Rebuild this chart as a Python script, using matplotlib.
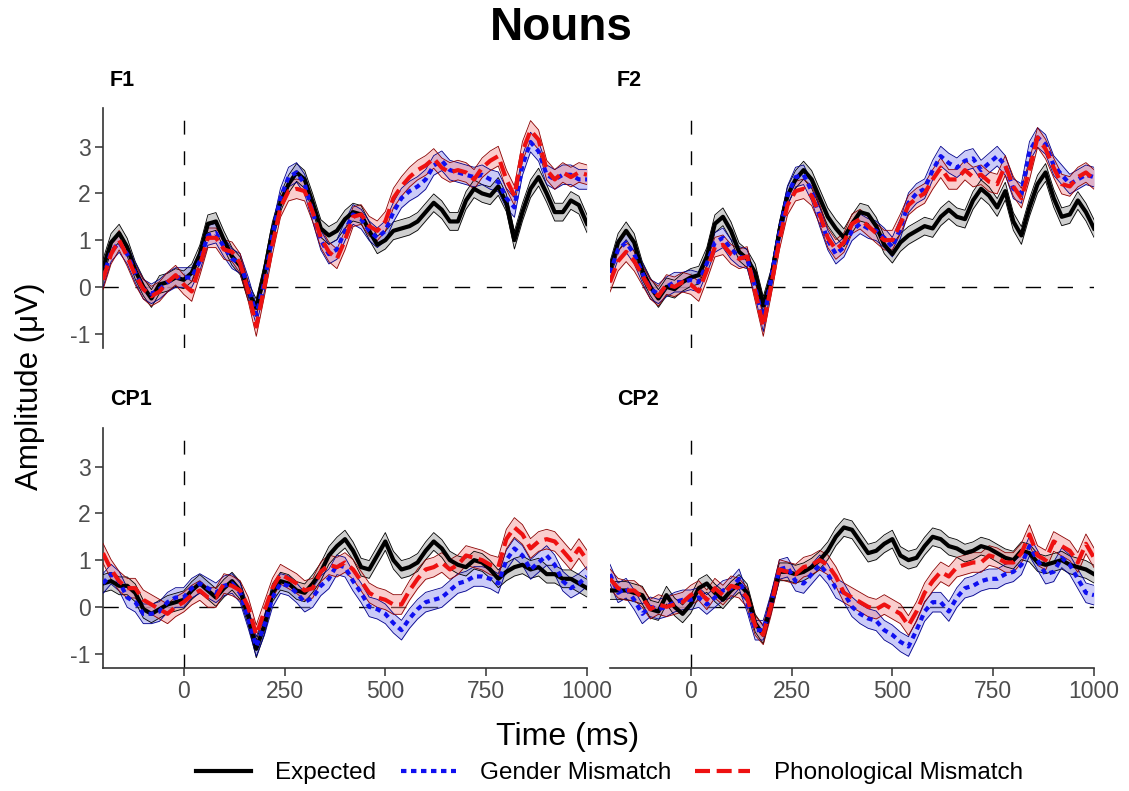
import numpy as np
import matplotlib
matplotlib.use("Agg")
import matplotlib.pyplot as plt

plt.rcParams['font.family'] = ['Liberation Sans', 'DejaVu Sans']
plt.rcParams['axes.unicode_minus'] = False

# time grid (ms), one sample every 20 ms
times = np.arange(-200, 1001, 20)

conditions = ["Expected", "Gender Mismatch", "Phonological Mismatch"]
panels = ["F1", "F2", "CP1", "CP2"]

f1_expected = [0.4, 0.95, 1.15, 0.85, 0.35, 0.0, -0.25, 0.05, 0.1, 0.2,
               0.15, 0.3, 0.7, 1.35, 1.4, 1.0, 0.65, 0.45, -0.1, -0.45,
               0.3, 1.2, 1.8, 2.2, 2.45, 2.3, 1.8, 1.25, 1.1, 1.2,
               1.45, 1.6, 1.55, 1.2, 0.9, 1.0, 1.2, 1.25, 1.3, 1.4,
               1.6, 1.8, 1.65, 1.4, 1.4, 1.85, 2.1, 2.0, 1.95, 2.15,
               1.8, 1.0, 1.6, 2.1, 2.35, 2.0, 1.6, 1.6, 1.85, 1.75,
               1.35]
f1_gender = [0.2, 0.75, 0.95, 0.7, 0.3, -0.05, -0.15, -0.05, 0.1, 0.2,
             0.2, 0.2, 0.55, 1.1, 1.15, 0.85, 0.6, 0.5, 0.0, -0.6,
             0.1, 1.1, 1.9, 2.35, 2.45, 2.2, 1.6, 1.0, 0.7, 0.8,
             1.2, 1.55, 1.45, 1.2, 1.05, 1.2, 1.6, 1.9, 2.05, 2.15,
             2.3, 2.6, 2.7, 2.5, 2.45, 2.4, 2.35, 2.4, 2.3, 2.25,
             1.9, 1.7, 2.6, 3.1, 2.9, 2.4, 2.3, 2.4, 2.4, 2.3,
             2.3]
f1_phono = [0.15, 0.7, 1.0, 0.65, 0.25, -0.05, -0.2, -0.1, 0.1, 0.25,
            0.05, -0.1, 0.45, 1.05, 1.05, 0.8, 0.75, 0.5, -0.1, -0.85,
            0.0, 0.9, 1.7, 2.05, 2.1, 2.05, 1.6, 1.05, 0.75, 0.6,
            1.0, 1.5, 1.55, 1.3, 1.2, 1.4, 1.9, 2.15, 2.35, 2.5,
            2.6, 2.75, 2.55, 2.45, 2.5, 2.45, 2.3, 2.55, 2.7, 2.8,
            2.3, 1.95, 2.9, 3.35, 3.15, 2.5, 2.3, 2.45, 2.35, 2.45,
            2.4]

f2_expected = [0.35, 0.95, 1.2, 0.95, 0.35, 0.0, -0.25, 0.0, -0.05, 0.1,
               0.2, 0.25, 0.65, 1.35, 1.5, 1.2, 0.75, 0.6, 0.3, -0.4,
               0.2, 1.2, 1.95, 2.3, 2.5, 2.3, 1.9, 1.5, 1.25, 1.05,
               1.35, 1.6, 1.55, 1.3, 0.9, 0.7, 0.95, 1.1, 1.2, 1.3,
               1.25, 1.5, 1.65, 1.5, 1.45, 1.85, 2.1, 1.95, 1.7, 2.05,
               1.4, 1.1, 1.7, 2.2, 2.45, 1.9, 1.5, 1.55, 1.85, 1.6,
               1.25]
f2_gender = [0.3, 0.8, 0.95, 0.7, 0.3, -0.05, -0.15, 0.0, 0.1, 0.1,
             0.15, 0.1, 0.5, 0.95, 1.05, 0.8, 0.65, 0.6, 0.0, -0.75,
             0.2, 1.15, 1.95, 2.35, 2.4, 2.05, 1.5, 1.0, 0.7, 0.85,
             1.2, 1.35, 1.25, 1.2, 1.05, 0.85, 1.25, 1.8, 2.0, 2.1,
             2.5, 2.8, 2.65, 2.55, 2.7, 2.75, 2.5, 2.65, 2.8, 2.6,
             2.1, 2.0, 2.9, 3.2, 3.05, 2.6, 2.4, 2.2, 2.3, 2.4,
             2.35]
f2_phono = [0.1, 0.55, 0.75, 0.55, 0.25, -0.05, -0.2, 0.05, 0.0, 0.1,
            0.05, -0.1, 0.35, 0.85, 0.9, 0.7, 0.6, 0.65, -0.1, -0.85,
            0.05, 1.0, 1.75, 2.05, 2.1, 1.95, 1.55, 1.05, 0.8, 0.95,
            1.35, 1.45, 1.3, 1.15, 1.0, 1.0, 1.35, 1.75, 1.9, 2.0,
            2.3, 2.55, 2.3, 2.3, 2.5, 2.35, 2.4, 2.25, 2.2, 2.6,
            2.15, 1.9, 2.5, 3.2, 2.95, 2.55, 2.2, 2.15, 2.35, 2.45,
            2.3]

cp1_expected = [0.5, 0.55, 0.45, 0.45, 0.3, -0.05, -0.15, -0.05, 0.05, 0.1,
                0.15, 0.35, 0.5, 0.35, 0.2, 0.4, 0.55, 0.35, -0.2, -0.9,
                -0.4, 0.3, 0.55, 0.5, 0.35, 0.3, 0.5, 0.75, 1.1, 1.3,
                1.45, 1.2, 0.85, 0.8, 1.1, 1.4, 1.0, 0.8, 0.85, 0.95,
                1.2, 1.4, 1.25, 1.0, 0.9, 0.85, 1.0, 0.95, 0.8, 0.6,
                0.75, 0.85, 0.9, 0.8, 0.85, 0.7, 0.7, 0.6, 0.6, 0.5,
                0.4]
cp1_gender = [0.5, 0.7, 0.55, 0.2, 0.1, -0.15, -0.15, -0.1, 0.1, 0.2,
              0.2, 0.4, 0.5, 0.4, 0.3, 0.45, 0.5, 0.3, -0.25, -0.85,
              -0.4, 0.2, 0.5, 0.45, 0.3, 0.1, 0.2, 0.45, 0.6, 0.9,
              0.85, 0.55, 0.3, 0.0, -0.05, -0.15, -0.35, -0.5, -0.25, -0.05,
              0.1, 0.15, 0.2, 0.35, 0.5, 0.55, 0.65, 0.65, 0.6, 0.5,
              1.0, 1.25, 1.1, 0.8, 0.95, 1.1, 0.9, 0.55, 0.4, 0.5,
              0.65]
cp1_phono = [1.15, 0.8, 0.55, 0.4, 0.4, 0.15, 0.05, -0.05, -0.15, 0.0,
             0.1, 0.25, 0.35, 0.2, 0.2, 0.5, 0.45, 0.35, 0.0, -0.6,
             -0.1, 0.4, 0.7, 0.6, 0.5, 0.35, 0.4, 0.75, 0.9, 0.85,
             0.95, 0.8, 0.55, 0.3, 0.2, 0.15, 0.05, 0.05, 0.35, 0.6,
             0.8, 0.85, 0.95, 0.8, 0.9, 1.1, 1.05, 1.0, 0.9, 0.85,
             1.45, 1.7, 1.55, 1.25, 1.4, 1.45, 1.4, 1.2, 1.0, 1.25,
             1.0]

cp2_expected = [0.35, 0.35, 0.35, 0.3, 0.25, -0.05, -0.1, 0.25, 0.0, -0.15,
                0.05, 0.4, 0.5, 0.3, 0.15, 0.35, 0.5, 0.3, -0.35, -0.6,
                0.1, 0.75, 0.75, 0.7, 0.75, 0.85, 1.0, 1.2, 1.5, 1.7,
                1.65, 1.4, 1.15, 1.2, 1.35, 1.45, 1.1, 1.0, 1.05, 1.3,
                1.5, 1.45, 1.3, 1.25, 1.15, 1.2, 1.3, 1.25, 1.15, 1.05,
                1.0, 1.2, 1.15, 0.95, 0.9, 0.95, 1.0, 0.9, 0.85, 0.8,
                0.7]
cp2_gender = [0.7, 0.3, 0.4, 0.15, -0.15, 0.0, -0.05, 0.0, 0.1, 0.15,
              0.15, 0.2, 0.05, 0.2, 0.35, 0.4, 0.6, 0.1, -0.5, -0.5,
              0.1, 0.8, 0.85, 0.55, 0.5, 0.7, 0.9, 0.7, 0.4, 0.3,
              0.0, -0.15, -0.25, -0.3, -0.5, -0.6, -0.75, -0.85, -0.5, -0.1,
              0.1, 0.1, -0.1, 0.2, 0.4, 0.45, 0.55, 0.6, 0.6, 0.7,
              0.75, 0.9, 1.3, 1.0, 0.7, 0.75, 1.05, 0.9, 0.6, 0.3,
              0.25]
cp2_phono = [0.6, 0.4, 0.35, 0.35, 0.2, -0.05, 0.05, 0.0, 0.05, 0.1,
             0.25, 0.35, 0.15, 0.4, 0.25, 0.45, 0.4, 0.2, -0.4, -0.6,
             0.05, 0.8, 0.75, 0.7, 0.85, 0.9, 1.0, 0.9, 0.65, 0.3,
             0.2, 0.1, 0.0, -0.05, 0.05, -0.05, -0.15, -0.4, -0.1, 0.3,
             0.55, 0.75, 0.65, 0.85, 0.9, 0.95, 0.95, 1.1, 1.05, 0.95,
             0.95, 1.15, 1.55, 1.1, 1.0, 1.4, 1.3, 1.2, 0.95, 1.35,
             1.05]

# half-width of the shaded band (uV), per condition
band_half = [0.19, 0.21, 0.21]

data = {
    "F1": [f1_expected, f1_gender, f1_phono],
    "F2": [f2_expected, f2_gender, f2_phono],
    "CP1": [cp1_expected, cp1_gender, cp1_phono],
    "CP2": [cp2_expected, cp2_gender, cp2_phono],
}

line_colors = ["black", "#1010F0", "#EE1111"]
edge_colors = ["black", "#00008B", "#8B0000"]
fill_colors = ["#A8A8A8", "#8C8CF0", "#F59090"]
fill_alpha = [0.55, 0.45, 0.45]
styles = ["-", (0, (1.3, 1.1)), (0, (3.6, 1.6))]

fig = plt.figure(figsize=(11.29, 7.91), dpi=100)

W, H = 1129.0, 791.0
boxes = {
    "F1": (103, 108, 587, 348),
    "F2": (610, 108, 1094, 348),
    "CP1": (103, 428, 587, 668),
    "CP2": (610, 428, 1094, 668),
}

axis_grey = "#333333"
handles = []
for name in panels:
    x0, y0, x1, y1 = boxes[name]
    ax = fig.add_axes([x0 / W, 1 - y1 / H, (x1 - x0) / W, (y1 - y0) / H])
    ax.set_xlim(-200, 1000)
    ax.set_ylim(-1.31, 3.83)
    ax.axhline(0, color="black", lw=1.0, ls=(0, (11, 12)), zorder=1)
    ax.axvline(0, color="black", lw=1.0, ls=(0, (10, 12)), zorder=1)

    series = data[name]
    for i, vals in enumerate(series):
        v = np.array(vals)
        ax.fill_between(times, v - band_half[i], v + band_half[i],
                        color=fill_colors[i], alpha=fill_alpha[i], lw=0, zorder=2)
        ax.plot(times, v - band_half[i], color=edge_colors[i], lw=0.6, zorder=3)
        ax.plot(times, v + band_half[i], color=edge_colors[i], lw=0.6, zorder=3)
    for i, vals in enumerate(series):
        ln, = ax.plot(times, vals, color=line_colors[i], lw=3.0, ls=styles[i],
                      zorder=4 + i, label=conditions[i])
        if name == "F1":
            handles.append(ln)

    for s in ["top", "right"]:
        ax.spines[s].set_visible(False)
    left_col = name in ("F1", "CP1")
    bottom_row = name in ("CP1", "CP2")
    ax.spines["left"].set_visible(left_col)
    ax.spines["bottom"].set_visible(bottom_row)
    for s in ["left", "bottom"]:
        ax.spines[s].set_color(axis_grey)
        ax.spines[s].set_linewidth(1.2)

    ax.set_yticks([-1, 0, 1, 2, 3])
    ax.set_xticks([0, 250, 500, 750, 1000])
    ax.tick_params(colors=axis_grey, labelcolor="#4D4D4D", labelsize=16.5,
                   length=6, width=1.1, pad=3)
    if not left_col:
        ax.tick_params(axis="y", left=False, labelleft=False)
    if not bottom_row:
        ax.tick_params(axis="x", bottom=False, labelbottom=False)
    ax.patch.set_alpha(0)

    fig.text((x0 + 7) / W, 1 - (y0 - 28) / H, name, fontsize=15.5,
             fontweight="bold", ha="left", va="center")

fig.text(0.497, 1 - 28 / H, "Nouns", fontsize=33, fontweight="bold",
         ha="center", va="center")
fig.text(568 / W, 1 - 737 / H, "Time (ms)", fontsize=23, ha="center", va="center")
fig.text(30 / W, 1 - 386 / H, "Amplitude (\u03bcV)", fontsize=22.5, rotation=90,
         ha="center", va="center")

fig.legend(handles, conditions, loc="center", bbox_to_anchor=(610 / W, 1 - 773 / H),
           ncol=3, frameon=False, fontsize=17.5, handlelength=2.25,
           handletextpad=1.0, columnspacing=1.0)

fig.savefig("out.png", dpi=100)
